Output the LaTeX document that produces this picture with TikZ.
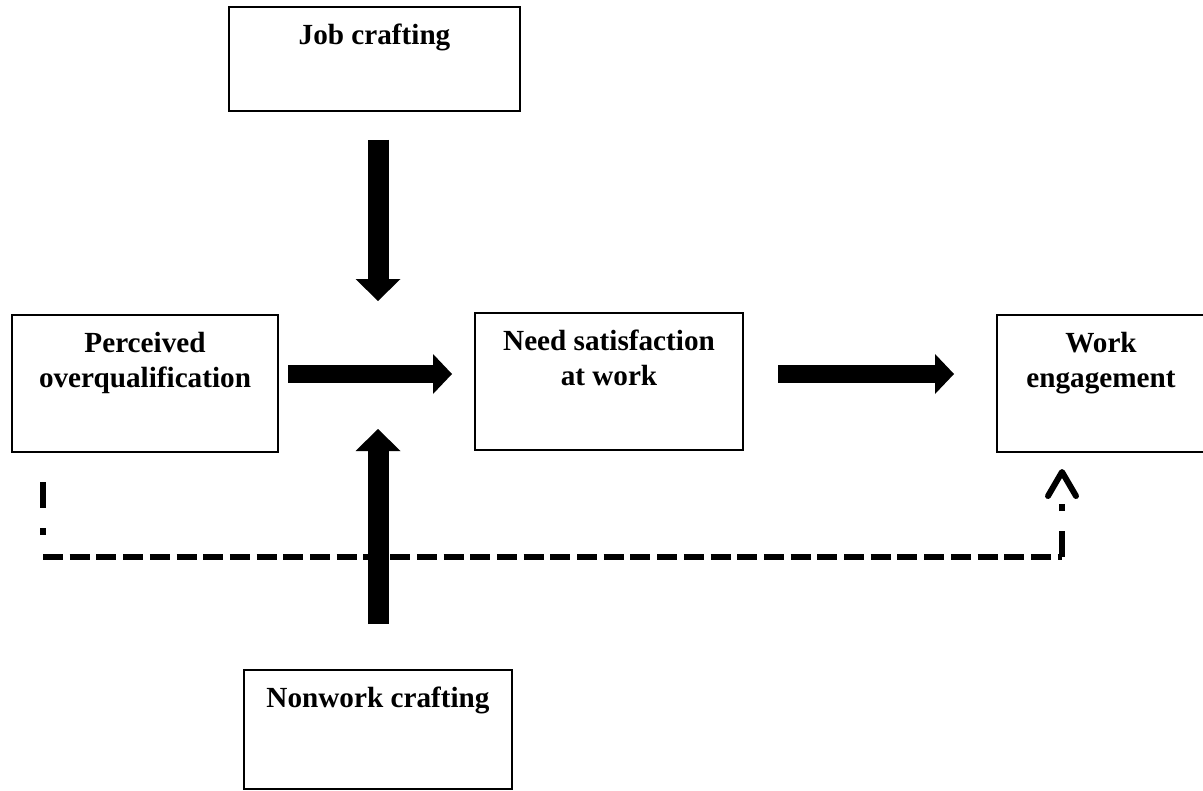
\documentclass[tikz,border=0pt]{standalone}
\usepackage{fontspec}
\setmainfont{Liberation Serif}
\usetikzlibrary{arrows.meta}

\begin{document}
\begin{tikzpicture}
[x=0.5pt, y=-0.5pt,
  boxdecorate/.style={draw, line width=1pt, inner sep=0pt},
  textdecorate/.style={anchor=north, inner sep=0pt, align=center,
    font=\fontsize{14.6pt}{17.5pt}\selectfont\bfseries},
  flowarrow/.style={line width=9pt,
    -{Triangle[length=9.5pt, width=20pt, line width=0pt]}},
  modarrow/.style={line width=10.5pt,
    -{Triangle[length=11pt, width=22.5pt, line width=0pt]}},
  dashdecorate/.style={line width=3pt, dash pattern=on 10pt off 3.35pt},
  dashdotdecorate/.style={line width=3pt,
    dash pattern=on 13pt off 10pt on 3.5pt off 20pt}]
\useasboundingbox (0,0) rectangle (1203,791);
%% boxes
\foreach \nodename/\x/\y/\w/\h in {job/374.5/59/145.5/52,
  perc/145/383.5/133/68.5, need/609/381.5/134/68.5,
  work/1101/383.5/104/68.5, nonwork/378/729.5/134/59.5} {
  \node (\nodename) at (\x,\y) [boxdecorate, minimum width=\w pt,
    minimum height=\h pt] {};
}
%% texts
\foreach \nodename/\txt in {job/Job crafting,
  perc/{Perceived\\overqualification}, need/{Need satisfaction\\at work},
  work/{Work\\engagement}, nonwork/Nonwork crafting} {
  \node (\nodename text) at ([yshift=-9pt]\nodename.north) [textdecorate] {\txt};
}
%% arrows
\coordinate (mid) at (378,374);
\draw[flowarrow, shorten <=4.5pt, shorten >=11pt] (perc.east |- mid) -- (need.west |- mid);
\draw[flowarrow, shorten <=17pt, shorten >=21pt] (need.east |- mid) -- (work.west |- mid);
\draw[modarrow, shorten <=14pt, shorten >=36.5pt] (job.south -| mid) -- (mid);
\draw[modarrow, shorten <=22.5pt, shorten >=27.5pt] (nonwork.north -| mid) -- (mid);
%% direct path
\coordinate (lowleft) at (43,557);
\coordinate (lowright) at (1062,557);
\draw[dashdotdecorate, shorten <=14.5pt] (perc.south -| lowleft) -- (lowleft);
\draw[dashdecorate] (lowleft) -- (lowright);
\draw[dashdotdecorate, shorten >=8pt,
  -{Straight Barb[length=12pt, width=14pt, round]}] (lowright) -- (work.south -| lowright);
\end{tikzpicture}
\end{document}
